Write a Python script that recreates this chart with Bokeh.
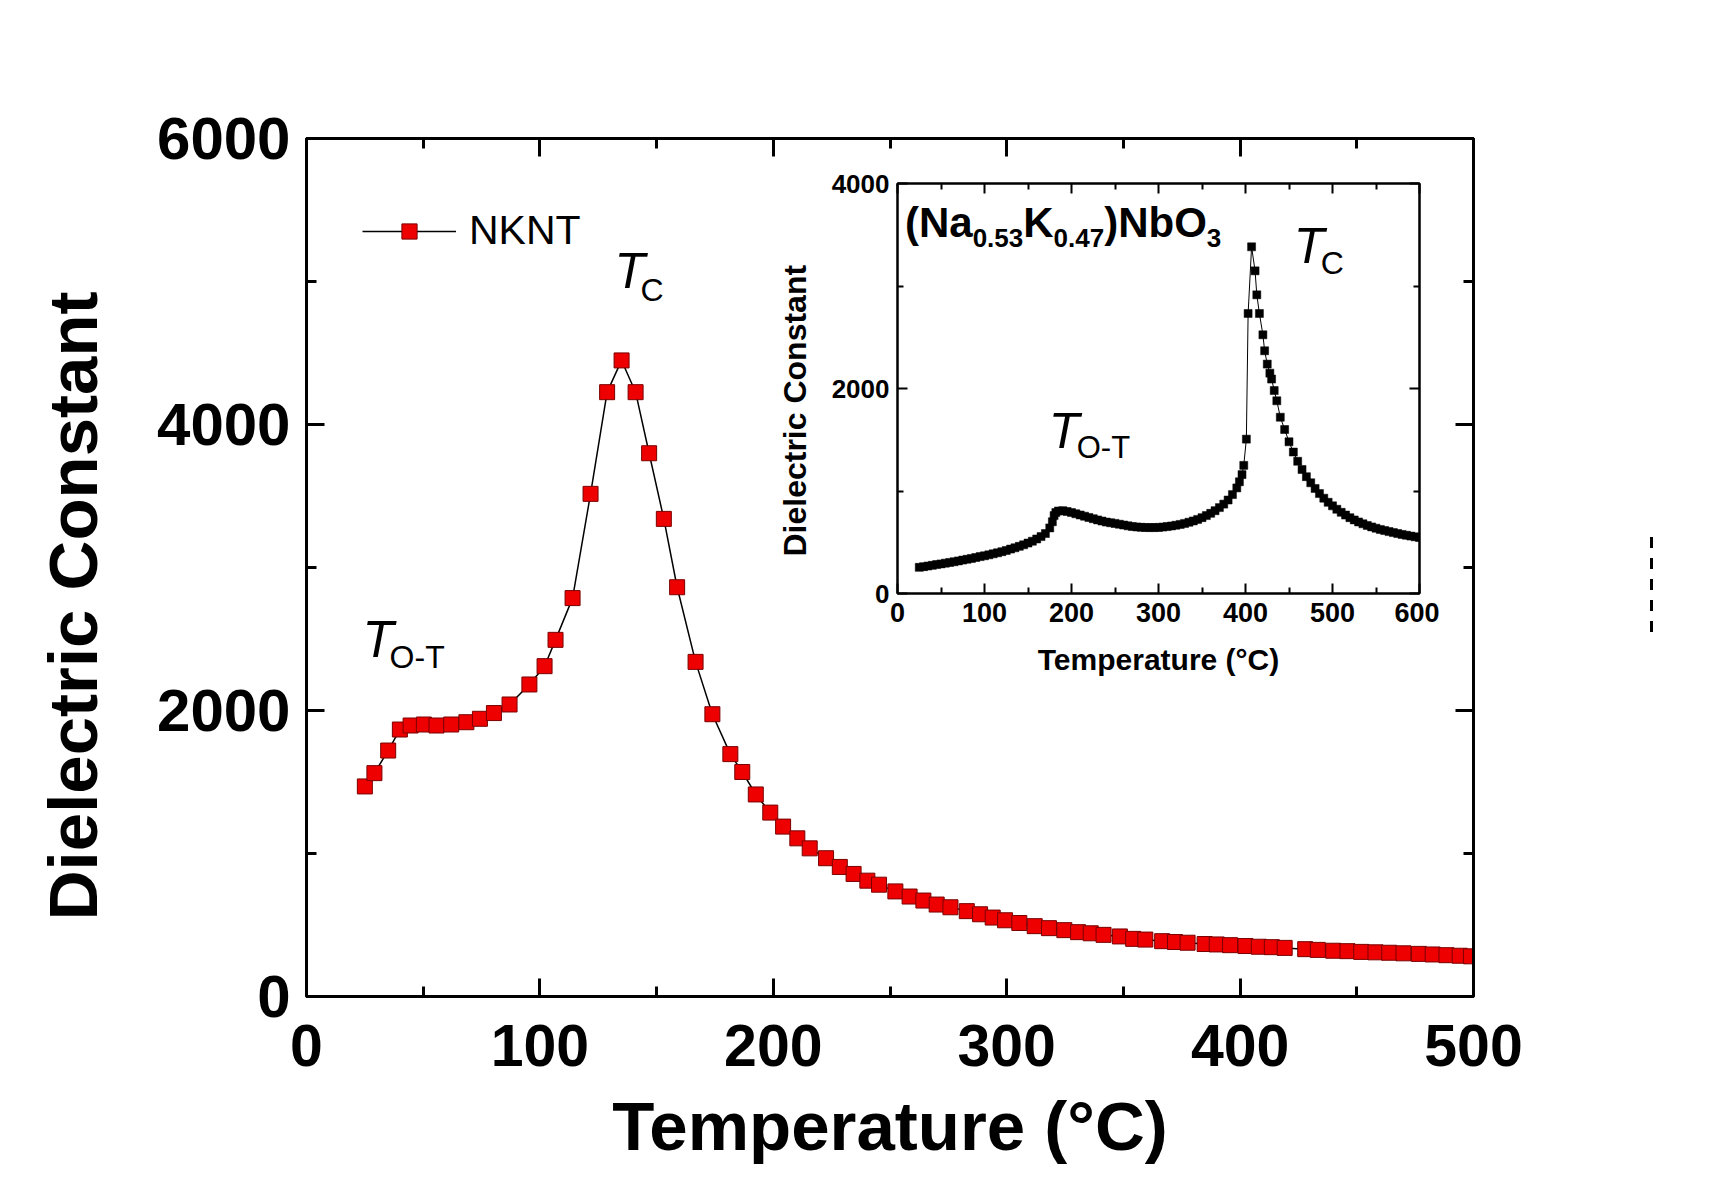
from bokeh.plotting import figure
from bokeh.models import (Range1d, LinearAxis, FixedTicker, Label, Legend, LegendItem,
                          GridBox, Div)
from bokeh.embed import file_html
from bokeh.resources import INLINE

FONT = "Liberation Sans"
NBSP = "\u00a0"

# ---------------- main data (NKNT) ----------------
main_T = [25.0, 29.1, 35.0, 40.0, 44.6, 50.3, 55.7, 62.0, 68.5, 74.3, 80.3, 87.0, 95.5,
          102.0, 106.7, 114.0, 121.7, 128.8, 135.0, 141.0, 146.8, 153.1, 158.8, 166.7,
          173.9, 181.6, 186.7, 192.5, 198.7, 204.2, 210.3, 215.6, 222.6, 228.5, 234.4,
          240.3, 245.3, 252.3, 258.4, 264.3, 270.0, 275.9, 282.9, 288.6, 294.0, 299.3,
          305.4, 312.0, 318.1, 324.7, 330.6, 336.0, 341.5, 348.5, 354.2, 359.4, 366.6,
          372.1, 377.5, 384.8, 390.0, 395.7, 402.3, 408.0, 413.6, 419.1, 427.9, 433.3,
          439.9, 446.0, 451.9, 458.0, 463.9, 470.0, 476.6, 482.5, 488.4, 494.1, 498.9]
main_eps = [1469, 1562, 1720, 1867, 1895, 1902, 1895, 1902, 1918, 1942, 1982, 2042, 2182,
            2310, 2494, 2786, 3515, 4226, 4448, 4226, 3799, 3340, 2862, 2340,
            1974, 1695, 1570, 1413, 1286, 1188, 1106, 1036, 967, 906, 857,
            810, 782, 735, 699, 671, 643, 624, 597, 575, 552, 533,
            514, 492, 478, 464, 450, 442, 431, 420, 403, 398, 387,
            381, 376, 367, 364, 359, 353, 348, 345, 340, 331, 326,
            320, 317, 312, 309, 306, 302, 298, 294, 289, 285, 281]
main_xticks = [0, 100, 200, 300, 400, 500]
main_xminor = [50, 150, 250, 350, 450]
main_yticks = [0, 2000, 4000, 6000]
main_yminor = [1000, 3000, 5000]

# ---------------- inset data ((Na0.53K0.47)NbO3) ----------------
inset_T = [25, 30, 35, 40, 45, 50, 55, 60, 65, 70, 75, 80, 85, 90, 95, 100, 105, 110, 115,
           120, 125, 130, 135, 140, 145, 150, 155, 160, 165, 170, 175, 178, 180, 182, 185,
           190, 195, 200, 205, 210, 215, 220, 225, 230, 235, 240, 245, 250, 255, 260, 265,
           270, 275, 280, 285, 290, 295, 300, 305, 310, 315, 320, 325, 330, 335, 340, 345,
           350, 355, 360, 365, 370, 375, 380, 385, 390, 393, 396, 398, 401, 403, 407, 411,
           413, 416, 420, 422, 425, 428, 430, 433, 436, 440, 445, 450, 455, 460, 465, 470,
           475, 480, 485, 490, 495, 500, 505, 510, 515, 520, 525, 530, 535, 540, 545, 550,
           555, 560, 565, 570, 575, 580, 585, 590, 595, 600]
inset_eps = [255, 262, 268, 275, 282, 289, 296, 303, 310, 318, 326, 334, 342, 351, 360, 368,
             377, 387, 397, 408, 420, 433, 446, 460, 475, 492, 510, 532, 555, 585, 640, 700,
             760, 790, 805, 808, 800, 790, 778, 766, 754, 742, 730, 718, 707, 697, 690, 684,
             676, 668, 660, 654, 649, 646, 644, 643, 643, 645, 648, 653, 659, 666, 674, 684,
             695, 708, 723, 740, 760, 782, 808, 838, 872, 912, 965, 1030, 1090, 1160, 1250,
             1506, 2732, 3382, 3148, 2914, 2732, 2524, 2368, 2238, 2150, 2092, 1980, 1880,
             1720, 1600, 1480, 1380, 1290, 1210, 1140, 1080, 1025, 975, 930, 890, 855, 822,
             792, 765, 740, 718, 698, 680, 664, 650, 637, 625, 614, 604, 594, 585, 576, 568,
             560, 553, 546]
inset_xticks = [0, 100, 200, 300, 400, 500, 600]
inset_xminor = [50, 150, 250, 350, 450, 550]
inset_yticks = [0, 2000, 4000]
inset_yminor = [1000, 3000]

# vertical correction for Bokeh's text baseline placement (fraction of font size)
BASE_CORR = 0.32


def style_axis(ax, ticks, minor, lw, tin, tmin, lab_size, lab_standoff,
               title_size=None, title_standoff=None, show_labels=True):
    ax.ticker = FixedTicker(ticks=ticks, minor_ticks=minor)
    ax.axis_line_width = lw
    ax.axis_line_color = "black"
    ax.major_tick_line_width = lw
    ax.minor_tick_line_width = lw
    ax.major_tick_in = tin
    ax.major_tick_out = 0
    ax.minor_tick_in = tmin
    ax.minor_tick_out = 0
    ax.major_label_text_font = FONT
    ax.major_label_text_font_style = "bold"
    ax.major_label_text_font_size = lab_size
    ax.major_label_text_color = "black" if show_labels else None
    ax.major_label_standoff = lab_standoff
    if title_size:
        ax.axis_label_text_font = FONT
        ax.axis_label_text_font_style = "bold"
        ax.axis_label_text_font_size = title_size
        ax.axis_label_text_color = "black"
        ax.axis_label_standoff = title_standoff


def add_text(fig, x, y_base, ky, txt, fs, style="normal"):
    """y_base: baseline in data units; ky: data units per pixel."""
    fig.add_layout(Label(x=x, y=y_base + BASE_CORR * fs * ky, text=txt, text_font=FONT,
                         text_font_style=style, text_font_size=f"{fs}px",
                         text_baseline="alphabetic", text_color="black"))


# ---------------- main figure ----------------
p = figure(width=1702, height=1186, x_range=Range1d(0, 500), y_range=Range1d(0, 6000),
           output_backend="svg", toolbar_location=None,
           min_border_left=306, min_border_right=229, min_border_top=138,
           min_border_bottom=190,
           x_axis_label="Temperature (°C)",
           y_axis_label="Dielectric Constant" + NBSP * 4)
p.grid.visible = False
p.outline_line_color = "black"
p.outline_line_width = 3
p.border_fill_color = "white"
p.background_fill_color = "white"

style_axis(p.xaxis[0], main_xticks, main_xminor, 3, 18, 10, "59px", 28, "69px", 19)
style_axis(p.yaxis[0], main_yticks, main_yminor, 3, 18, 10, "60px", 16, "69px", 42)
top_ax = LinearAxis()
right_ax = LinearAxis()
style_axis(top_ax, main_xticks, main_xminor, 3, 18, 10, "10px", 0, show_labels=False)
style_axis(right_ax, main_yticks, main_yminor, 3, 18, 10, "10px", 0, show_labels=False)
p.add_layout(top_ax, "above")
p.add_layout(right_ax, "right")

r_line = p.line(main_T, main_eps, line_color="black", line_width=1.5)
r_sq = p.scatter(main_T, main_eps, marker="square", size=15, fill_color="#ee0000",
                 line_color="#7a0000", line_width=1)

legend = Legend(items=[LegendItem(label="NKNT", renderers=[r_line, r_sq])],
                location=(56, 742), padding=0, margin=0, spacing=0,
                glyph_width=94, glyph_height=38, label_standoff=13,
                label_text_font=FONT, label_text_font_size="41px",
                label_text_color="black", border_line_alpha=0,
                background_fill_alpha=0)
p.add_layout(legend)

KYM = 6000.0 / 858.0
add_text(p, 132.0, 4960, KYM, "T", 50, "italic")
add_text(p, 143.1, 4867, KYM, "C", 32)
add_text(p, 24.0, 2385, KYM, "T", 51, "italic")
add_text(p, 35.6, 2301, KYM, "O-T", 32)

# ---------------- inset figure ----------------
inset = figure(width=691, height=525, x_range=Range1d(0, 600), y_range=Range1d(0, 4000),
               output_backend="svg", toolbar_location=None,
               min_border_left=149, min_border_right=20, min_border_top=15,
               min_border_bottom=100,
               x_axis_label="Temperature (°C)",
               y_axis_label="Dielectric Constant" + NBSP * 5)
inset.grid.visible = False
inset.outline_line_color = "black"
inset.outline_line_width = 2
inset.border_fill_alpha = 0
inset.background_fill_alpha = 0

style_axis(inset.xaxis[0], inset_xticks, inset_xminor, 2, 10, 6, "27px", 9, "30px", 18)
style_axis(inset.yaxis[0], inset_yticks, inset_yminor, 2, 10, 6, "26px", 8, "32px", 16)
itop = LinearAxis()
iright = LinearAxis()
style_axis(itop, inset_xticks, inset_xminor, 2, 10, 6, "10px", 0, show_labels=False)
style_axis(iright, inset_yticks, inset_yminor, 2, 10, 6, "10px", 0, show_labels=False)
inset.add_layout(itop, "above")
inset.add_layout(iright, "right")

inset.line(inset_T, inset_eps, line_color="black", line_width=1)
inset.scatter(inset_T, inset_eps, marker="square", size=8, fill_color="black",
              line_color="black", line_width=0.5)

# formula label built from pieces (Arial/Liberation Bold advance widths)
AW = {'(': 333, 'N': 722, 'a': 556, '0': 556, '.': 278, '5': 556, '3': 556, 'K': 722,
      '4': 556, '7': 556, ')': 333, 'b': 611, 'O': 778}
KX = 600.0 / 522.0
KY = 4000.0 / 410.0
pieces = [("(Na", 42, False), ("0.53", 26, True), ("K", 42, False), ("0.47", 26, True),
          (")NbO", 42, False), ("3", 26, True)]
xpx = 7.5
for txt, fs, sub in pieces:
    base_px = 63.3 if sub else 52.3
    add_text(inset, xpx * KX, 4000 - base_px * KY, KY, txt, fs, "bold")
    xpx += sum(AW[c] for c in txt) / 1000.0 * fs

add_text(inset, 455.4, 3236, KY, "T", 50, "italic")
add_text(inset, 486.4, 3129, KY, "C", 32)
add_text(inset, 173.8, 1431, KY, "T", 50, "italic")
add_text(inset, 206.0, 1324, KY, "O-T", 31)

# small dashed mark at the far right of the page
dash = Div(text='<div style="margin-left:1645px;margin-top:532px;width:3px;height:100px;'
                'background:repeating-linear-gradient(to bottom,#000 0px,#000 11px,'
                'transparent 11px,transparent 21px);"></div>',
           width=1702, height=1186)

layout = GridBox(children=[(p, 0, 0, 3, 3), (inset, 1, 1), (dash, 0, 0, 3, 3)],
                 rows=["168px", "525px", "auto"], cols=["748px", "691px", "auto"])

open("out.html", "w").write(file_html(layout, INLINE))
